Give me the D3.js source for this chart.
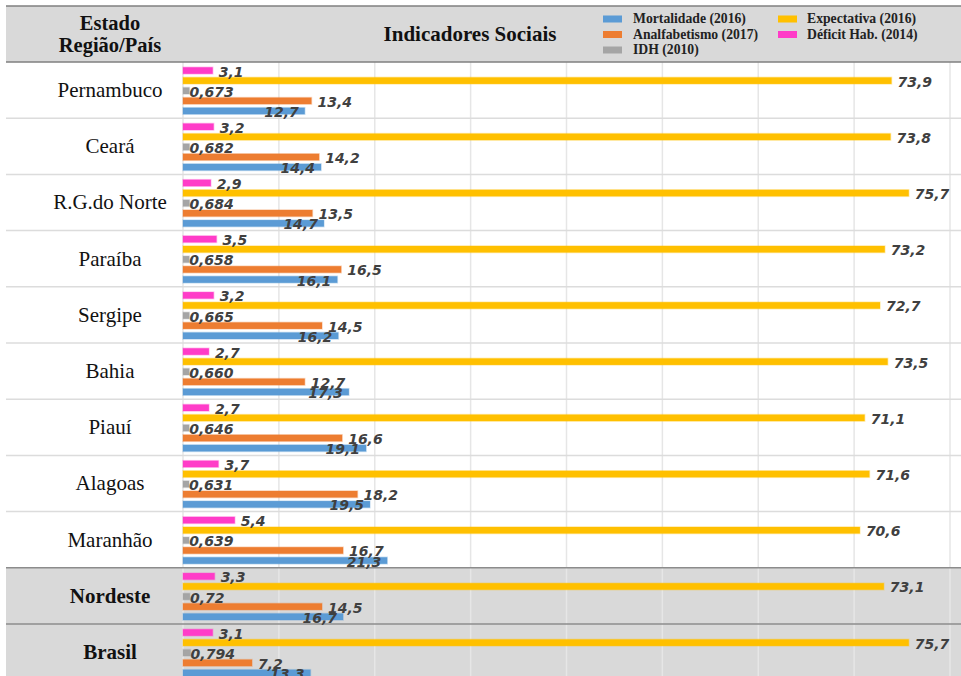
<!DOCTYPE html>
<html>
<head>
<meta charset="utf-8">
<script src="https://cdn.jsdelivr.net/npm/d3@7"></script>
<style>
  body { margin: 0; background: #fff; }
  .cat-label { font-family: 'Liberation Serif', 'Times New Roman', 'DejaVu Serif', serif; font-size: 21px; fill: #111; }
  .cat-label.bold { font-weight: bold; }
  .head-text { font-family: 'Liberation Serif', 'Times New Roman', 'DejaVu Serif', serif; font-size: 20.5px; font-weight: bold; fill: #111; }
  .head-title { font-size: 21px; }
  .legend-text { font-family: 'Liberation Serif', 'Times New Roman', 'DejaVu Serif', serif; font-size: 13.7px; font-weight: bold; fill: #222; }
  .value-label { font-family: 'DejaVu Sans', Verdana, sans-serif; font-size: 14px; font-weight: bold; font-style: italic; fill: #404040; }
</style>
</head>
<body>
<svg id="svg-chart" width="961" height="676"></svg>
<script>
//////////////////////////////////////////////////////////////////////////////////////////
// Data
//////////////////////////////////////////////////////////////////////////////////////////
var regions = ['Pernambuco', 'Ceará', 'R.G.do Norte', 'Paraíba', 'Sergipe', 'Bahia',
  'Piauí', 'Alagoas', 'Maranhão', 'Nordeste', 'Brasil']
var highlighted = ['Nordeste', 'Brasil']

var mortalidade = [12.7, 14.4, 14.7, 16.1, 16.2, 17.3, 19.1, 19.5, 21.3, 16.7, 13.3]
var analfabetismo = [13.4, 14.2, 13.5, 16.5, 14.5, 12.7, 16.6, 18.2, 16.7, 14.5, 7.2]
// IDH kept as written in the source table (0,660 but 0,72)
var idh = ['0.673', '0.682', '0.684', '0.658', '0.665', '0.660', '0.646', '0.631', '0.639', '0.72', '0.794']
var expectativa = [73.9, 73.8, 75.7, 73.2, 72.7, 73.5, 71.1, 71.6, 70.6, 73.1, 75.7]
var deficit = [3.1, 3.2, 2.9, 3.5, 3.2, 2.7, 2.7, 3.7, 5.4, 3.3, 3.1]

var x_ticks = [0, 10, 20, 30, 40, 50, 60, 70, 80]

//////////////////////////////////////////////////////////////////////////////////////////
// Layout and style
//////////////////////////////////////////////////////////////////////////////////////////
var layout = {
  'width': 961,
  'height': 676,
  'table-left': 6,
  'table-right': 961,
  'header-top': 6,
  'header-bottom': 62,
  'row-h': 56.2,
  'plot-left': 183,
  'plot-right': 950,
  'cat-x': 110
}

var fmt1 = d3.format('.1f')
function comma(s) { return String(s).replace('.', ',') }

// top to bottom inside each row
var series = [
  { key: 'deficit', name: 'Déficit Hab. (2014)', color: '#ff3cc8',
    values: deficit, text: deficit.map(function(v) { return comma(fmt1(v)) }), anchor: 'start', dx: 6 },
  { key: 'expectativa', name: 'Expectativa (2016)', color: '#ffc000',
    values: expectativa, text: expectativa.map(function(v) { return comma(fmt1(v)) }), anchor: 'start', dx: 6 },
  { key: 'idh', name: 'IDH (2010)', color: '#a5a5a5',
    values: idh.map(Number), text: idh.map(comma), anchor: 'start', dx: 0 },
  { key: 'analfabetismo', name: 'Analfabetismo (2017)', color: '#ed7d31',
    values: analfabetismo, text: analfabetismo.map(function(v) { return comma(fmt1(v)) }), anchor: 'start', dx: 6 },
  { key: 'mortalidade', name: 'Mortalidade (2016)', color: '#5b9bd5',
    values: mortalidade, text: mortalidade.map(function(v) { return comma(fmt1(v)) }), anchor: 'end', dx: -6 }
]

var legend_items = [
  { key: 'mortalidade', col: 0, row: 0 },
  { key: 'analfabetismo', col: 0, row: 1 },
  { key: 'idh', col: 0, row: 2 },
  { key: 'expectativa', col: 1, row: 0 },
  { key: 'deficit', col: 1, row: 1 }
]

//////////////////////////////////////////////////////////////////////////////////////////
// Scales
//////////////////////////////////////////////////////////////////////////////////////////
var x = d3.scaleLinear()
  .domain([0, 80])
  .range([layout['plot-left'], layout['plot-right']])

var y_row = d3.scaleBand()
  .domain(regions)
  .range([layout['header-bottom'], layout['header-bottom'] + layout['row-h'] * regions.length])

var y_bar = d3.scaleBand()
  .domain(series.map(function(s) { return s.key }))
  .range([3.5, 54])
  .paddingInner(0.35)
  .paddingOuter(0.175)

var svg = d3.select('#svg-chart')

//////////////////////////////////////////////////////////////////////////////////////////
// Table backgrounds
//////////////////////////////////////////////////////////////////////////////////////////
svg.append('rect')
  .attr('x', layout['table-left'])
  .attr('y', layout['header-top'])
  .attr('width', layout['table-right'] - layout['table-left'])
  .attr('height', layout['header-bottom'] - layout['header-top'])
  .attr('fill', '#d9d9d9')

svg.selectAll('.row-bg')
  .data(highlighted)
  .enter()
  .append('rect')
  .attr('class', 'row-bg')
  .attr('x', layout['table-left'])
  .attr('y', function(d) { return y_row(d) })
  .attr('width', layout['table-right'] - layout['table-left'])
  .attr('height', y_row.bandwidth())
  .attr('fill', '#d9d9d9')

// vertical gridlines
svg.selectAll('.grid')
  .data(x_ticks)
  .enter()
  .append('line')
  .attr('class', 'grid')
  .attr('x1', function(d) { return x(d) })
  .attr('x2', function(d) { return x(d) })
  .attr('y1', layout['header-bottom'])
  .attr('y2', layout['height'])
  .attr('stroke', '#e6e6e6')
  .attr('stroke-width', 1.5)

// row separators
svg.selectAll('.row-line')
  .data(regions.slice(1))
  .enter()
  .append('line')
  .attr('class', 'row-line')
  .attr('x1', layout['table-left'])
  .attr('x2', layout['table-right'])
  .attr('y1', function(d) { return y_row(d) })
  .attr('y2', function(d) { return y_row(d) })
  .attr('stroke', function(d) { return highlighted.indexOf(d) >= 0 ? '#8c8c8c' : '#dcdcdc' })
  .attr('stroke-width', 1.5)

svg.selectAll('.head-line')
  .data([layout['header-top'], layout['header-bottom']])
  .enter()
  .append('line')
  .attr('class', 'head-line')
  .attr('x1', layout['table-left'])
  .attr('x2', layout['table-right'])
  .attr('y1', function(d) { return d })
  .attr('y2', function(d) { return d })
  .attr('stroke', '#7f7f7f')
  .attr('stroke-width', 1.5)

//////////////////////////////////////////////////////////////////////////////////////////
// Bars and labels
//////////////////////////////////////////////////////////////////////////////////////////
var g_rows = svg.selectAll('.g-row')
  .data(regions)
  .enter()
  .append('g')
  .attr('class', 'g-row')
  .attr('transform', function(d) { return 'translate(0,' + y_row(d) + ')' })

series.forEach(function(s) {
  g_rows.append('rect')
    .attr('class', 'bar bar-' + s.key)
    .attr('x', x(0))
    .attr('y', y_bar(s.key))
    .attr('width', function(d, i) { return x(s.values[i]) - x(0) })
    .attr('height', y_bar.bandwidth())
    .attr('fill', s.color)
    .attr('stroke', s.color)
    .attr('stroke-opacity', 0.3)
    .attr('stroke-width', 1.5)
})

series.forEach(function(s) {
  g_rows.append('text')
    .attr('class', 'value-label')
    .attr('x', function(d, i) { return x(s.values[i]) + s.dx })
    .attr('y', y_bar(s.key) + y_bar.bandwidth() / 2 + 1)
    .attr('dy', '0.36em')
    .attr('text-anchor', s.anchor)
    .text(function(d, i) { return s.text[i] })
})

g_rows.append('text')
  .attr('class', function(d) { return highlighted.indexOf(d) >= 0 ? 'cat-label bold' : 'cat-label' })
  .attr('x', layout['cat-x'])
  .attr('y', y_row.bandwidth() / 2 + 7)
  .attr('text-anchor', 'middle')
  .text(function(d) { return d })

//////////////////////////////////////////////////////////////////////////////////////////
// Header
//////////////////////////////////////////////////////////////////////////////////////////
svg.selectAll('.head-col')
  .data(['Estado', 'Região/País'])
  .enter()
  .append('text')
  .attr('class', 'head-text')
  .attr('x', layout['cat-x'])
  .attr('y', function(d, i) { return 30 + i * 21.5 })
  .attr('text-anchor', 'middle')
  .text(function(d) { return d })

svg.append('text')
  .attr('class', 'head-text head-title')
  .attr('x', 470)
  .attr('y', 41)
  .attr('text-anchor', 'middle')
  .text('Indicadores Sociais')

var g_legend = svg.append('g')
  .attr('id', 'g-legend')
  .attr('transform', 'translate(603,19)')

var legend_g = g_legend.selectAll('.legend-item')
  .data(legend_items)
  .enter()
  .append('g')
  .attr('class', 'legend-item')
  .attr('transform', function(d) {
    return 'translate(' + (d.col * 175) + ',' + (d.row * 15.5) + ')'
  })

legend_g.append('rect')
  .attr('x', 0)
  .attr('y', -3.5)
  .attr('width', 19)
  .attr('height', 7)
  .attr('fill', function(d) {
    return series.filter(function(s) { return s.key == d.key })[0].color
  })

legend_g.append('text')
  .attr('class', 'legend-text')
  .attr('x', function(d) { return d.col == 0 ? 30 : 29 })
  .attr('y', 4)
  .text(function(d) {
    return series.filter(function(s) { return s.key == d.key })[0].name
  })
</script>
</body>
</html>
